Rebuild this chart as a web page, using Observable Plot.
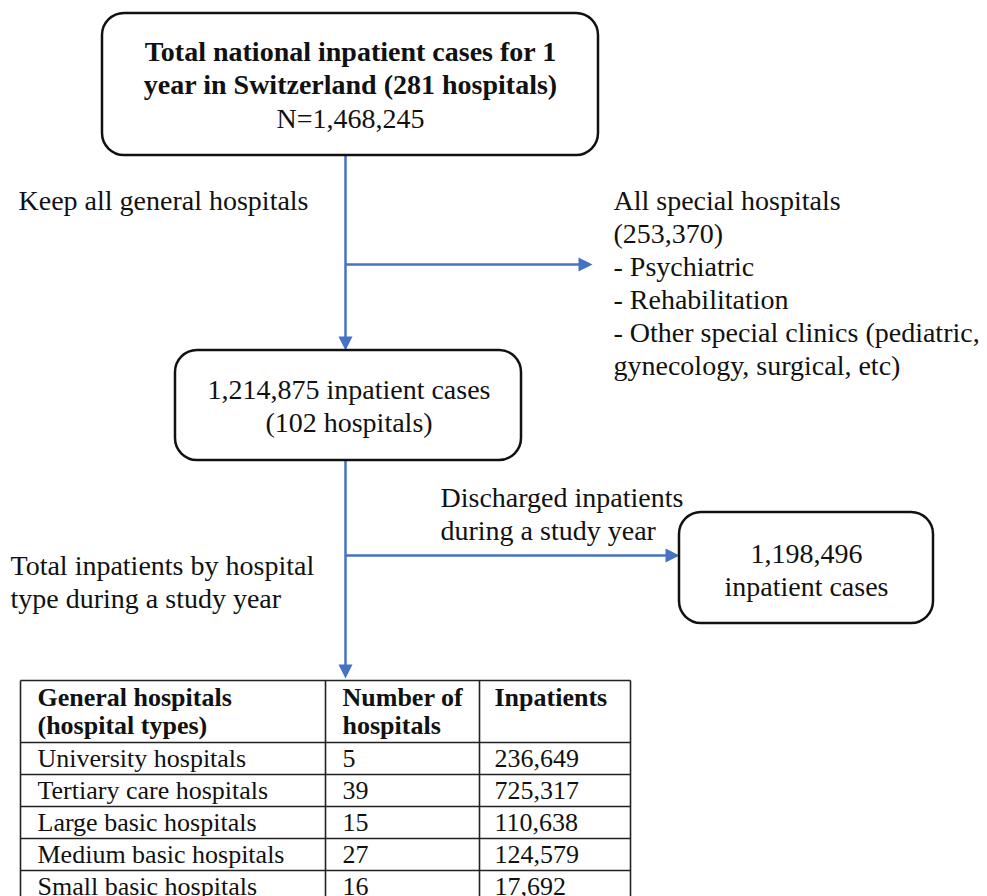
<!DOCTYPE html>
<html>
<head>
<meta charset="utf-8">
<script src="https://cdn.jsdelivr.net/npm/d3@7"></script>
<script src="https://cdn.jsdelivr.net/npm/@observablehq/plot@0.6"></script>
<style>
  html, body { margin: 0; padding: 0; background: #fff; overflow: hidden; }
</style>
</head>
<body>
<div id="chart"></div>
<script>
// ---------- values ----------
const totalCases = 1468245;
const totalHospitals = 281;
const specialCases = 253370;
const generalCases = 1214875;
const generalHospitals = 102;
const dischargedCases = 1198496;

const specialTypes = ["Psychiatric", "Rehabilitation", "Other special clinics (pediatric,", "gynecology, surgical, etc)"];

const tableHeaders = [["General hospitals", "(hospital types)"], ["Number of", "hospitals"], ["Inpatients"]];
const hospitalTypes = ["University hospitals", "Tertiary care hospitals", "Large basic hospitals", "Medium basic hospitals", "Small basic hospitals"];
const hospitalCounts = [5, 39, 15, 27, 16];
const inpatients = [236649, 725317, 110638, 124579, 17692];

const fmt = d3.format(",");

// ---------- layout (pixel space, identity scales) ----------
const W = 987, H = 896;
const blue = "#4472C4";
const serif = "Liberation Serif, Times New Roman, serif";
const L = {
  box1: {x1: 102, x2: 598, y1: 13, y2: 155},
  box2: {x1: 175, x2: 521, y1: 350, y2: 460},
  box3: {x1: 679, x2: 933, y1: 512, y2: 623},
  stemX: 345,
  branch1Y: 264, branch1Tip: 592,
  branch2Y: 555,
  step: 33,
  tableTop: 680, headerBottom: 742, rowH: 32,
  cols: [20, 325, 479, 630],
  colText: [37, 342, 494]
};

const boxes = [L.box1, L.box2, L.box3];
const cx = b => (b.x1 + b.x2) / 2;

// text items
const texts = [];
const add = (x, y, text, anchor = "start", weight = "normal") => texts.push({x, y, text, anchor, weight});

// box 1
add(cx(L.box1), 60, "Total national inpatient cases for 1", "middle", "bold");
add(cx(L.box1), 60 + L.step, `year in Switzerland (${totalHospitals} hospitals)`, "middle", "bold");
add(cx(L.box1), 60 + 2 * L.step + 1, `N=${fmt(totalCases)}`, "middle");
// left note 1
add(18, 209, "Keep all general hospitals");
// special hospitals
const specialLines = ["All special hospitals", `(${fmt(specialCases)})`, ...specialTypes.map((t, i) => i < 3 ? `- ${t}` : t)];
specialLines.forEach((t, i) => add(613, 209 + i * L.step, t));
// box 2
add(cx(L.box2) + 0.5, 398, `${fmt(generalCases)} inpatient cases`, "middle");
add(cx(L.box2) + 0.5, 398 + L.step, `(${generalHospitals} hospitals)`, "middle");
// discharged note
add(440, 506, "Discharged inpatients");
add(440, 506 + L.step, "during a study year");
// box 3
add(cx(L.box3), 562, fmt(dischargedCases), "middle");
add(cx(L.box3), 562 + L.step, "inpatient cases", "middle");
// left note 2
add(10, 574, "Total inpatients by hospital");
add(10, 574 + L.step, "type during a study year");

// table texts
const tableTexts = [];
tableHeaders.forEach((lines, c) => lines.forEach((t, i) =>
  tableTexts.push({x: L.colText[c], y: 705 + i * 28, text: t, weight: "bold"})));
hospitalTypes.forEach((t, r) => {
  const y = L.headerBottom + r * L.rowH + 24;
  tableTexts.push({x: L.colText[0], y, text: t, weight: "normal"});
  tableTexts.push({x: L.colText[1], y, text: String(hospitalCounts[r]), weight: "normal"});
  tableTexts.push({x: L.colText[2], y, text: fmt(inpatients[r]), weight: "normal"});
});

// table grid
const rowLines = [L.tableTop, ...hospitalTypes.map((_, r) => L.headerBottom + r * L.rowH), L.headerBottom + hospitalTypes.length * L.rowH];
const tableBottom = rowLines[rowLines.length - 1];
const grid = [
  ...rowLines.map(y => ({x1: L.cols[0], x2: L.cols[3], y1: y, y2: y})),
  ...L.cols.map(x => ({x1: x, x2: x, y1: L.tableTop, y2: tableBottom}))
];

// connectors
const headLen = 14;
const heads = [
  {x: L.stemX, y: L.box2.y1, rot: 180},
  {x: L.branch1Tip, y: L.branch1Y, rot: 90},
  {x: L.stemX, y: L.tableTop - 2, rot: 180},
  {x: L.box3.x1, y: L.branch2Y, rot: 90}
];
const segs = [
  {x1: L.stemX, y1: L.box1.y2, x2: L.stemX, y2: L.box2.y1 - 10},
  {x1: L.stemX, y1: L.branch1Y, x2: L.branch1Tip - 10, y2: L.branch1Y},
  {x1: L.stemX, y1: L.box2.y2, x2: L.stemX, y2: L.tableTop - 12},
  {x1: L.stemX, y1: L.branch2Y, x2: L.box3.x1 - 10, y2: L.branch2Y}
];

const textMark = (data, anchor, weight, size) => Plot.text(
  data.filter(d => (d.anchor ?? "start") === anchor && d.weight === weight),
  {x: "x", y: "y", text: "text", textAnchor: anchor, lineAnchor: "bottom",
   fontSize: size, fontWeight: weight, fill: "#111", fontFamily: serif});

const chart = Plot.plot({
  width: W,
  height: H,
  margin: 0,
  x: {domain: [0, W], range: [0, W], axis: null},
  y: {domain: [0, H], range: [0, H], axis: null},
  style: {fontFamily: serif, background: "#fff", overflow: "hidden"},
  marks: [
    Plot.link(segs, {x1: "x1", y1: "y1", x2: "x2", y2: "y2", stroke: blue, strokeWidth: 2.5}),
    Plot.vector(heads, {x: "x", y: "y", rotate: "rot", length: headLen, r: 7, shape: "spike", anchor: "end", fill: blue, stroke: "none"}),
    Plot.rect(boxes, {x1: "x1", x2: "x2", y1: "y1", y2: "y2", rx: 22, fill: "none", stroke: "#111", strokeWidth: 2.5}),
    Plot.link(grid, {x1: "x1", y1: "y1", x2: "x2", y2: "y2", stroke: "#222", strokeWidth: 1.6}),
    textMark(texts, "middle", "bold", 28),
    textMark(texts, "middle", "normal", 28),
    textMark(texts, "start", "normal", 28),
    textMark(tableTexts, "start", "bold", 26),
    textMark(tableTexts, "start", "normal", 26)
  ]
});
document.getElementById("chart").appendChild(chart);
</script>
</body>
</html>
